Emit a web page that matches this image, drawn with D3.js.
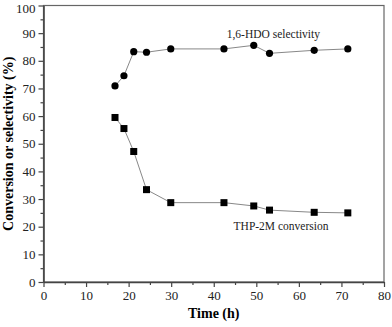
<!DOCTYPE html>
<html lang="en">
<head>
  <meta charset="utf-8">
  <style>
    body { margin: 0; padding: 0; background: #fff; }
    svg text { font-family: "Liberation Serif", "Times New Roman", serif; }
  </style>
</head>
<body>
  <svg width="392" height="327"></svg>
  <script src="https://cdn.jsdelivr.net/npm/d3@7"></script>
  <script>
    // data
    var timeH = [16.8, 18.9, 21.2, 24.2, 29.9, 42.4, 49.4, 53.1, 63.6, 71.5];
    var selectivity = [70.9, 74.6, 83.3, 83.1, 84.3, 84.3, 85.6, 82.7, 83.8, 84.3];
    var conversion = [59.5, 55.5, 47.2, 33.4, 28.7, 28.7, 27.5, 26.0, 25.2, 25.0];
    var xTicks = [0, 10, 20, 30, 40, 50, 60, 70, 80];
    var yTicks = [0, 10, 20, 30, 40, 50, 60, 70, 80, 90, 100];

    var svg = d3.select("svg"),
      margin = { top: 5.5, right: 8, bottom: 45, left: 43.5 },
      width = +svg.attr("width") - margin.left - margin.right,
      height = +svg.attr("height") - margin.top - margin.bottom,
      g = svg.append("g").attr("transform", "translate(" + margin.left + "," + margin.top + ")");

    var x = d3.scaleLinear().domain([0, 80]).range([0, width]);
    var y = d3.scaleLinear().domain([0, 100]).range([height, 0]);

    var axisColor = "#444";

    // frame
    g.append("rect")
      .attr("width", width)
      .attr("height", height)
      .attr("fill", "none")
      .attr("stroke", "#666")
      .attr("stroke-width", 1.2);

    // minor ticks
    g.append("g")
      .attr("transform", "translate(0," + height + ")")
      .call(d3.axisBottom(x).tickValues(d3.range(5, 80, 10)).tickSize(3).tickFormat(""))
      .call(function(a) { a.select(".domain").remove(); a.selectAll("line").attr("stroke", axisColor).attr("stroke-width", 1.2); });
    g.append("g")
      .call(d3.axisLeft(y).tickValues(d3.range(5, 100, 10)).tickSize(3).tickFormat(""))
      .call(function(a) { a.select(".domain").remove(); a.selectAll("line").attr("stroke", axisColor).attr("stroke-width", 1.2); });

    // major axes
    var xAxis = g.append("g")
      .attr("transform", "translate(0," + height + ")")
      .call(d3.axisBottom(x).tickValues(xTicks).tickSize(5).tickPadding(4).tickSizeOuter(0));
    var yAxis = g.append("g")
      .call(d3.axisLeft(y).tickValues(yTicks).tickSize(5).tickPadding(3).tickSizeOuter(0));

    [xAxis, yAxis].forEach(function(a) {
      a.select(".domain").attr("stroke", axisColor).attr("stroke-width", 1.6);
      a.selectAll(".tick line").attr("stroke", axisColor).attr("stroke-width", 1.2);
      a.selectAll(".tick text")
        .attr("fill", "#222")
        .style("font-size", "13px")
        .style("font-family", "Liberation Serif, serif");
    });
    // keep the top label inside the picture
    yAxis.selectAll(".tick text").filter(function(d) { return d === 100; }).attr("dy", "0.5em");

    // connecting lines
    var line = d3.line()
      .x(function(d) { return x(d[0]); })
      .y(function(d) { return y(d[1]); });

    var selPts = timeH.map(function(t, i) { return [t, selectivity[i]]; });
    var convPts = timeH.map(function(t, i) { return [t, conversion[i]]; });

    [selPts, convPts].forEach(function(pts) {
      g.append("path")
        .datum(pts)
        .attr("fill", "none")
        .attr("stroke", "#888")
        .attr("stroke-width", 1)
        .attr("d", line);
    });

    // markers
    g.selectAll(".dot")
      .data(selPts)
      .enter().append("circle")
      .attr("class", "dot")
      .attr("cx", function(d) { return x(d[0]); })
      .attr("cy", function(d) { return y(d[1]); })
      .attr("r", 3.6)
      .attr("fill", "#000");

    g.selectAll(".sq")
      .data(convPts)
      .enter().append("rect")
      .attr("class", "sq")
      .attr("x", function(d) { return x(d[0]) - 3.5; })
      .attr("y", function(d) { return y(d[1]) - 3.5; })
      .attr("width", 7)
      .attr("height", 7)
      .attr("fill", "#000");

    // series labels
    g.append("text")
      .attr("x", x(54))
      .attr("y", y(88.2))
      .attr("text-anchor", "middle")
      .style("font-size", "11.5px")
      .attr("fill", "#222")
      .text("1,6-HDO selectivity");

    g.append("text")
      .attr("x", x(55.8))
      .attr("y", y(18.8))
      .attr("text-anchor", "middle")
      .style("font-size", "11.5px")
      .attr("fill", "#222")
      .text("THP-2M conversion");

    // axis titles
    svg.append("text")
      .attr("x", margin.left + width / 2)
      .attr("y", 318)
      .attr("text-anchor", "middle")
      .style("font-size", "14px")
      .style("font-weight", "bold")
      .text("Time (h)");

    svg.append("text")
      .attr("transform", "translate(13," + (margin.top + height / 2) + ") rotate(-90)")
      .attr("text-anchor", "middle")
      .style("font-size", "14px")
      .style("font-weight", "bold")
      .text("Conversion or selectivity (%)");
  </script>
</body>
</html>
